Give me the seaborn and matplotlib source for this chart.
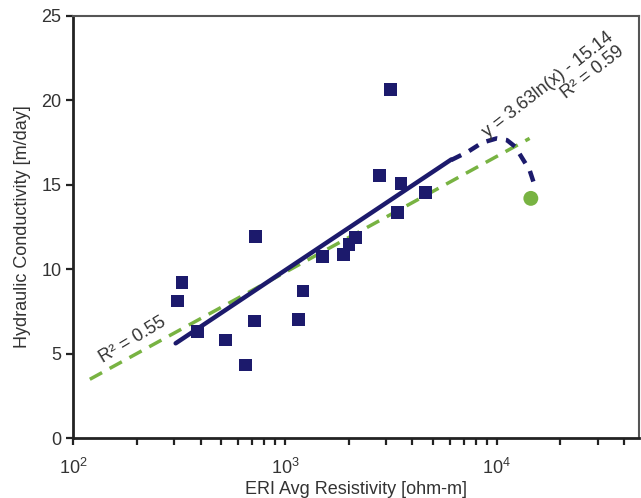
import numpy as np
import pandas as pd
import matplotlib
matplotlib.use("Agg")
import matplotlib.pyplot as plt
import seaborn as sns

# ---- data ----
resistivity = [312, 327, 386, 524, 652, 725, 719, 1159, 1217, 1500,
               1883, 2006, 2153, 2805, 3164, 3535, 3410, 4624]
conductivity = [8.13, 9.23, 6.31, 5.82, 4.34, 11.93, 6.94, 7.04, 8.72, 10.75,
                10.89, 11.48, 11.87, 15.54, 20.65, 15.09, 13.37, 14.56]

outlier_x = [14490]
outlier_y = [14.2]

# log fit (straight on log axis), solid part
fit_x = [305, 6100]
fit_y = [5.62, 16.5]

# dashed extrapolation of the fit
ext_x = [6100, 7310, 8550, 10000, 11170, 12220, 13360, 14290, 14900]
ext_y = [16.47, 16.96, 17.5, 17.75, 17.65, 17.26, 16.47, 15.88, 15.19]

# green dashed trend (R2 = 0.55)
green_x = [120, 14300]
green_y = [3.49, 17.75]

NAVY = "#1c1a6c"
GREEN = "#78b342"
TXT = "#333333"

sns.set_theme(style="ticks")
plt.rcParams["font.family"] = ["Liberation Sans", "DejaVu Sans"]
plt.rcParams["mathtext.fontset"] = "custom"
plt.rcParams["mathtext.rm"] = "Liberation Sans"

fig = plt.figure(figsize=(6.41, 4.98), dpi=100)
ax = fig.add_axes([0.114, 0.12, 0.883, 0.848])

sns.lineplot(x=green_x, y=green_y, ax=ax, color=GREEN, lw=2.5,
             linestyle=(0, (4, 2.5)), sort=False, estimator=None)
sns.lineplot(x=fit_x, y=fit_y, ax=ax, color=NAVY, lw=3.2,
             sort=False, estimator=None)
sns.lineplot(x=ext_x, y=ext_y, ax=ax, color=NAVY, lw=3.2,
             linestyle=(0, (2.5, 2)), sort=False, estimator=None)

sns.scatterplot(x=resistivity, y=conductivity, ax=ax, marker="s", s=85,
                color=NAVY, edgecolor="none", zorder=3)
sns.scatterplot(x=outlier_x, y=outlier_y, ax=ax, marker="o", s=115,
                color=GREEN, edgecolor="none", zorder=3)

ax.set_xscale("log")
ax.set_xlim(100, 4.7e4)
ax.set_ylim(0, 25)
ax.set_yticks([0, 5, 10, 15, 20, 25])

for name, s in ax.spines.items():
    if name in ("left", "bottom"):
        s.set_linewidth(2)
        s.set_color("#222222")
    else:
        s.set_linewidth(1.5)
        s.set_color("#555555")

ax.tick_params(axis="both", which="major", direction="out", length=5,
               width=1.6, color="#222222", labelcolor=TXT, labelsize=13)
ax.tick_params(axis="x", which="minor", direction="out", length=5,
               width=1.6, color="#222222")
ax.tick_params(axis="x", which="major", pad=9)

ax.set_xlabel("ERI Avg Resistivity [ohm-m]", fontsize=13, color=TXT, labelpad=2)
ax.set_ylabel("Hydraulic Conductivity [m/day]", fontsize=13, color=TXT, labelpad=7)

ax.text(191, 5.8, "R² = 0.55", rotation=31, ha="center", va="center",
        fontsize=13, color=TXT)
ax.text(18600, 20.5, "y = 3.63ln(x) - 15.14\nR² = 0.59", rotation=38,
        ha="center", va="center", multialignment="right",
        fontsize=13, color=TXT, linespacing=1.05)

fig.savefig("out.png", dpi=100)
